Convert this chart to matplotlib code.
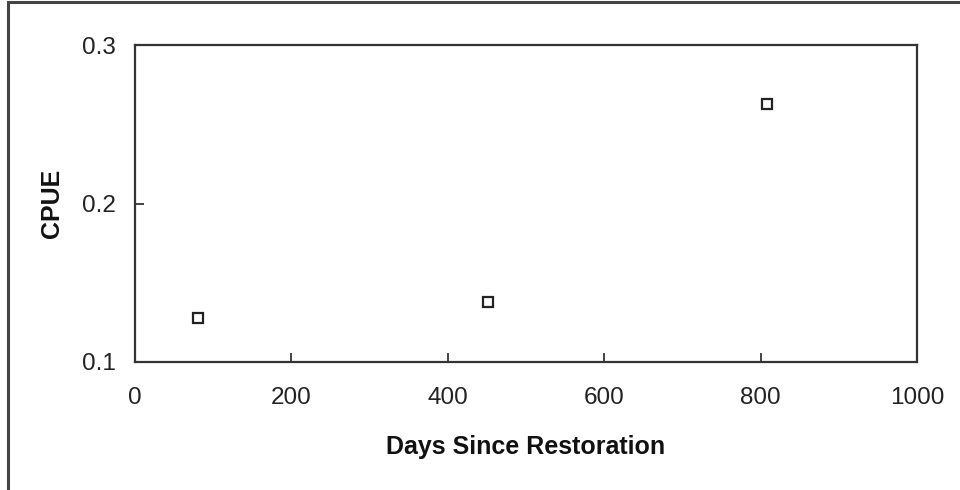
import matplotlib.pyplot as plt
from matplotlib.patches import Rectangle

# CPUE against time since the restoration
days = [81, 452, 808]
cpue = [0.128, 0.138, 0.263]

xticks = [0, 200, 400, 600, 800, 1000]
yticks = [0.1, 0.2, 0.3]

plt.rcParams['font.family'] = ['Liberation Sans', 'DejaVu Sans']

fig = plt.figure(figsize=(9.6, 4.9), dpi=100)
ax = fig.add_axes([135/960, 1 - 362/490, (917 - 135)/960, (362 - 45)/490])

ax.plot(days, cpue, linestyle='none', marker='s', markersize=7.5,
        markerfacecolor='white', markeredgecolor='#222222', markeredgewidth=1.6)

ax.set_xlim(0, 1000)
ax.set_ylim(0.1, 0.3)
ax.set_xticks(xticks)
ax.set_xticklabels([str(t) for t in xticks])
ax.set_yticks(yticks)
ax.set_yticklabels(['%.1f' % t for t in yticks])

ax.tick_params(direction='in', length=6.5, width=1.2, colors='#222222',
               labelsize=17.5, labelcolor='#222222')
ax.tick_params(axis='x', pad=18)
ax.tick_params(axis='y', pad=14)
for s in ax.spines.values():
    s.set_linewidth(1.6)
    s.set_color('#333333')

ax.set_xlabel('Days Since Restoration', fontsize=18, fontweight='bold',
              color='#111111', labelpad=19)
ax.set_ylabel('CPUE', fontsize=18, fontweight='bold', color='#111111',
              labelpad=13)

# frame round the whole chart area (left and top edges only show)
fig.patches.append(Rectangle((8/960, -0.1), 1.2, 1.1 - 2/490,
                             transform=fig.transFigure, fill=False,
                             edgecolor='#444444', linewidth=2.2))

fig.savefig('out.png', dpi=100)
